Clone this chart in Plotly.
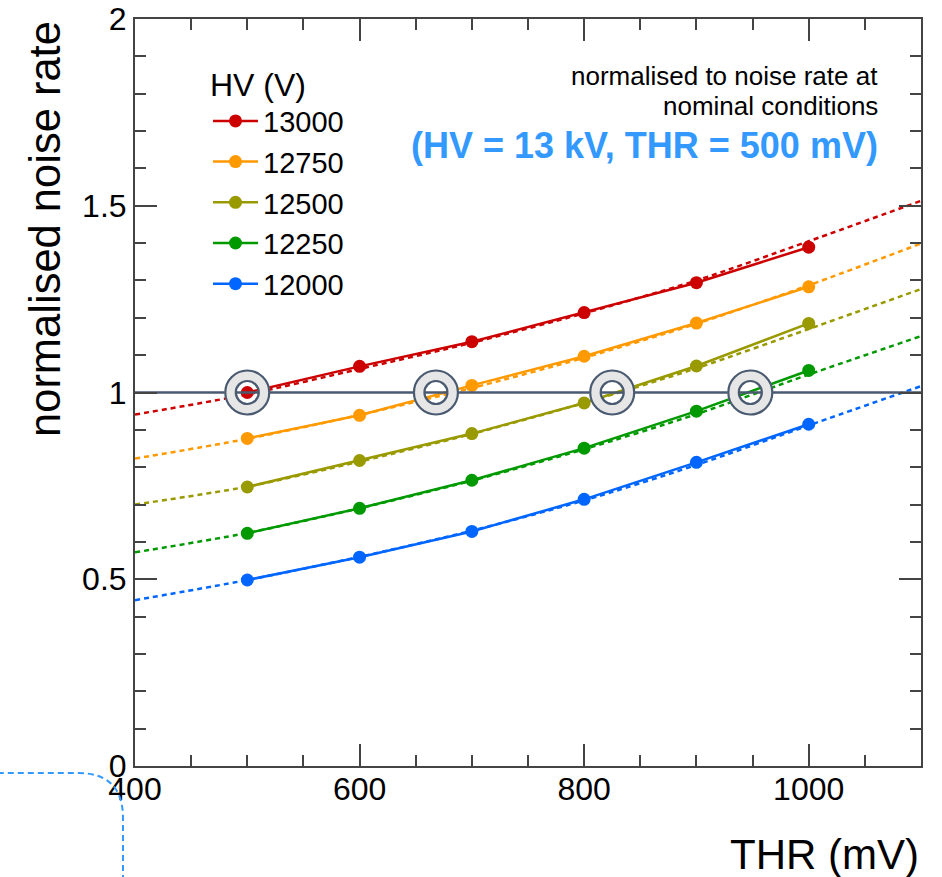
import plotly.graph_objects as go

# ---------------- data ----------------
thr = [500, 600, 700, 800, 900, 1000]
hv_labels = ["13000", "12750", "12500", "12250", "12000"]
colors = ["#cc0000", "#ff9900", "#999900", "#009900", "#0066ff"]

rate_13000 = [1.000, 1.070, 1.136, 1.214, 1.294, 1.389]
rate_12750 = [0.877, 0.939, 1.019, 1.097, 1.186, 1.283]
rate_12500 = [0.747, 0.818, 0.890, 0.972, 1.071, 1.185]
rate_12250 = [0.623, 0.690, 0.765, 0.851, 0.950, 1.059]
rate_12000 = [0.498, 0.559, 0.628, 0.714, 0.813, 0.915]
rates = [rate_13000, rate_12750, rate_12500, rate_12250, rate_12000]

fit_thr = [400, 500, 600, 700, 800, 900, 1000, 1100]
fit_13000 = [0.941, 0.995, 1.063, 1.133, 1.212, 1.300, 1.405, 1.513]
fit_12750 = [0.823, 0.876, 0.940, 1.012, 1.093, 1.184, 1.287, 1.399]
fit_12500 = [0.700, 0.748, 0.815, 0.889, 0.972, 1.065, 1.170, 1.277]
fit_12250 = [0.572, 0.624, 0.690, 0.764, 0.848, 0.942, 1.048, 1.151]
fit_12000 = [0.444, 0.498, 0.560, 0.630, 0.711, 0.806, 0.912, 1.017]
fits = [fit_13000, fit_12750, fit_12500, fit_12250, fit_12000]

nominal_level = 1.0
crossing_thr = [500, 668, 825, 948]

x_range = [400, 1100]
y_range = [0, 2]

FONT = "Liberation Sans, Arial, Helvetica, sans-serif"
SLATE = "#4a5a70"
FRAME = "#444444"

fig = go.Figure()

# fit curves (dotted)
for lab, col, f in zip(hv_labels, colors, fits):
    fig.add_trace(go.Scatter(
        x=fit_thr, y=f, mode="lines", showlegend=False, hoverinfo="skip",
        line=dict(color=col, width=2.5, dash="5px,4px", shape="spline", smoothing=0.8),
    ))

# measured points
for lab, col, r in zip(hv_labels, colors, rates):
    fig.add_trace(go.Scatter(
        x=thr, y=r, mode="lines+markers", name=lab,
        line=dict(color=col, width=2.5),
        marker=dict(color=col, size=13),
    ))

# nominal level line
fig.add_trace(go.Scatter(
    x=x_range, y=[nominal_level, nominal_level], mode="lines", showlegend=False,
    hoverinfo="skip", line=dict(color=SLATE, width=2.5),
))

# ring markers at crossings
ny = [nominal_level] * len(crossing_thr)
fig.add_trace(go.Scatter(
    x=crossing_thr, y=ny, mode="markers", showlegend=False, hoverinfo="skip",
    marker=dict(symbol="circle-open", size=34, color="#e6e6e6",
                line=dict(width=11.5, color="#e6e6e6")),
))
for sz in (44, 23):
    fig.add_trace(go.Scatter(
        x=crossing_thr, y=ny, mode="markers", showlegend=False, hoverinfo="skip",
        marker=dict(symbol="circle-open", size=sz, color=SLATE,
                    line=dict(width=2.2, color=SLATE)),
    ))

axis_common = dict(
    showline=True, linecolor=FRAME, linewidth=2, mirror="ticks",
    ticks="inside", ticklen=22, tickwidth=2, tickcolor=FRAME,
    showgrid=False, zeroline=False, automargin=False,
    tickfont=dict(family=FONT, size=32, color="black"),
)

fig.update_xaxes(
    range=x_range, tick0=400, dtick=200, ticklabelstandoff=-6,
    minor=dict(dtick=50, ticks="inside", ticklen=11, tickwidth=2, tickcolor=FRAME, showgrid=False),
    **axis_common,
)
fig.update_yaxes(
    range=y_range, tick0=0, dtick=0.5, ticklabelstandoff=0,
    minor=dict(dtick=0.1, ticks="inside", ticklen=11, tickwidth=2, tickcolor=FRAME, showgrid=False),
    **axis_common,
)

# dashed rounded corner (overlay decoration)
fig.add_shape(
    type="path", xref="paper", yref="paper",
    path="M -0.2,-0.0094 L -0.0725,-0.0094 Q -0.0153,-0.0094 -0.0153,-0.0695 L -0.0153,-0.16",
    line=dict(color="#3399ff", width=2, dash="6px,4px"),
)

annotations = [
    dict(text="normalised noise rate", xref="paper", yref="paper", x=-0.1145, y=1.0,
         xanchor="center", yanchor="top", textangle=-90, showarrow=False,
         font=dict(family=FONT, size=43.5, color="black")),
    dict(text="THR (mV)", xref="paper", yref="paper", x=1.0, y=-0.119,
         xanchor="right", yanchor="middle", showarrow=False,
         font=dict(family=FONT, size=42, color="black")),
    dict(text="normalised to noise rate at", xref="paper", yref="paper", x=0.9478, y=0.9238,
         xanchor="right", yanchor="middle", showarrow=False,
         font=dict(family=FONT, size=26, color="black")),
    dict(text="nominal conditions", xref="paper", yref="paper", x=0.9478, y=0.8837,
         xanchor="right", yanchor="middle", showarrow=False,
         font=dict(family=FONT, size=26, color="black")),
    dict(text="<b>(HV = 13 kV, THR = 500 mV)</b>", xref="paper", yref="paper", x=0.9478, y=0.8312,
         xanchor="right", yanchor="middle", showarrow=False,
         font=dict(family=FONT, size=36, color="#3399ff")),
]

fig.update_layout(
    width=942, height=877,
    margin=dict(l=135, r=21, t=19, b=111),
    paper_bgcolor="white", plot_bgcolor="white",
    annotations=annotations,
    legend=dict(
        title=dict(text="HV (V)", font=dict(family=FONT, size=32, color="black")),
        font=dict(family=FONT, size=29, color="black"),
        itemwidth=45,
        x=(208 - 135) / 786, y=(766 - 53) / 748, xanchor="left", yanchor="top",
        bgcolor="rgba(0,0,0,0)", borderwidth=0,
    ),
    showlegend=True,
)

fig.write_html("out.html")
